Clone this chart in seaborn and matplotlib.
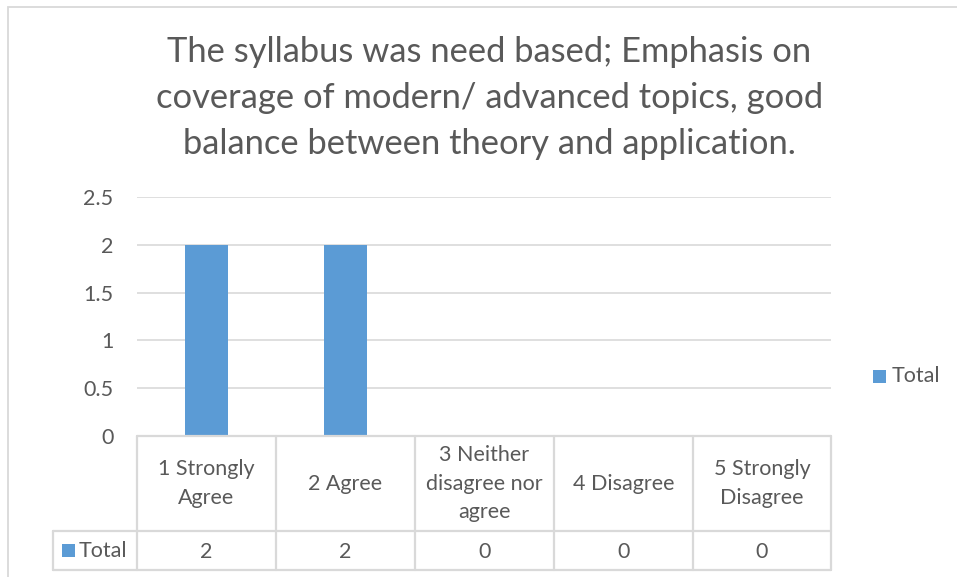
import matplotlib
matplotlib.use("Agg")
import matplotlib.pyplot as plt
import seaborn as sns
import pandas as pd
from matplotlib.patches import Rectangle
from matplotlib.lines import Line2D

categories = ["1 Strongly\nAgree", "2 Agree", "3 Neither\ndisagree nor\nagree", "4 Disagree", "5 Strongly\nDisagree"]
values = [2, 2, 0, 0, 0]
series_name = "Total"
yticks = [0, 0.5, 1, 1.5, 2, 2.5]
ytick_labels = ["0", "0.5", "1", "1.5", "2", "2.5"]
title = "The syllabus was need based; Emphasis on\ncoverage of modern/ advanced topics, good\nbalance between theory and application."

sns.set_theme(style="white")
FONT = "Lato"
plt.rcParams["font.family"] = [FONT, "DejaVu Sans"]

BAR = "#5B9BD5"
TXT = "#595959"
GRID = "#D9D9D9"
FS = 15.5

W, H = 957, 577
fig = plt.figure(figsize=(W / 100, H / 100), dpi=100)

def fx(px):
    return px / W

def fy(py):
    return 1 - py / H

# outer chart frame
fig.patches.append(Rectangle((fx(8), fy(700)), fx(1200), fy(7) - fy(700),
                             transform=fig.transFigure, fill=False,
                             edgecolor=GRID, lw=1.3))

left, right, top, bottom = 137, 831, 197, 436
ax = fig.add_axes([fx(left), fy(bottom), fx(right - left), fy(top) - fy(bottom)])

df = pd.DataFrame({"cat": categories, "val": values})
sns.barplot(data=df, x="cat", y="val", color=BAR, width=0.31, ax=ax,
            saturation=1, edgecolor="none")
ax.set_xlim(-0.5, len(categories) - 0.5)
ax.set_ylim(0, 2.5)
ax.set_yticks(yticks)
ax.set_yticklabels(ytick_labels)
ax.set_xticks([])
ax.set_xlabel("")
ax.set_ylabel("")
for s in ax.spines.values():
    s.set_visible(False)
ax.yaxis.grid(True, color=GRID, lw=1.2)
ax.set_axisbelow(True)
ax.tick_params(axis="y", length=0, pad=17, labelsize=FS, labelcolor=TXT)

fig.text(fx(489.5), fy(98), title, ha="center", va="center",
         fontsize=24.8, color=TXT, linespacing=1.52)

# data table (figure pixel coords)
col_edges = [137, 276, 415, 554, 693, 831]
row_top, row_mid, row_bot = 436, 531, 570
lines = []
lines.append(((137, 831), (row_top, row_top)))
lines.append(((53, 831), (row_mid, row_mid)))
lines.append(((53, 831), (row_bot, row_bot)))
for x in col_edges:
    lines.append(((x, x), (row_top, row_bot)))
lines.append(((53, 53), (row_mid, row_bot)))
for xs, ys in lines:
    fig.lines.append(Line2D([fx(xs[0]), fx(xs[1])], [fy(ys[0]), fy(ys[1])],
                            transform=fig.transFigure, color=GRID, lw=1.6))

for i, (c, v) in enumerate(zip(categories, values)):
    cx = 0.5 * (col_edges[i] + col_edges[i + 1])
    fig.text(fx(cx), fy(0.5 * (row_top + row_mid)), c, ha="center", va="center",
             fontsize=FS, color=TXT, linespacing=1.55)
    fig.text(fx(cx), fy(0.5 * (row_mid + row_bot) + 1), f"{v:g}", ha="center", va="center",
             fontsize=FS, color=TXT)

# legend key inside table
fig.patches.append(Rectangle((fx(62), fy(557)), fx(13), fy(544) - fy(557),
                             transform=fig.transFigure, color=BAR, lw=0))
fig.text(fx(79), fy(551), series_name, ha="left", va="center", fontsize=FS, color=TXT)

# right legend
fig.patches.append(Rectangle((fx(873), fy(383)), fx(13), fy(370) - fy(383),
                             transform=fig.transFigure, color=BAR, lw=0))
fig.text(fx(892), fy(376), series_name, ha="left", va="center", fontsize=FS, color=TXT)

fig.savefig("out.png", dpi=100, facecolor="white")
